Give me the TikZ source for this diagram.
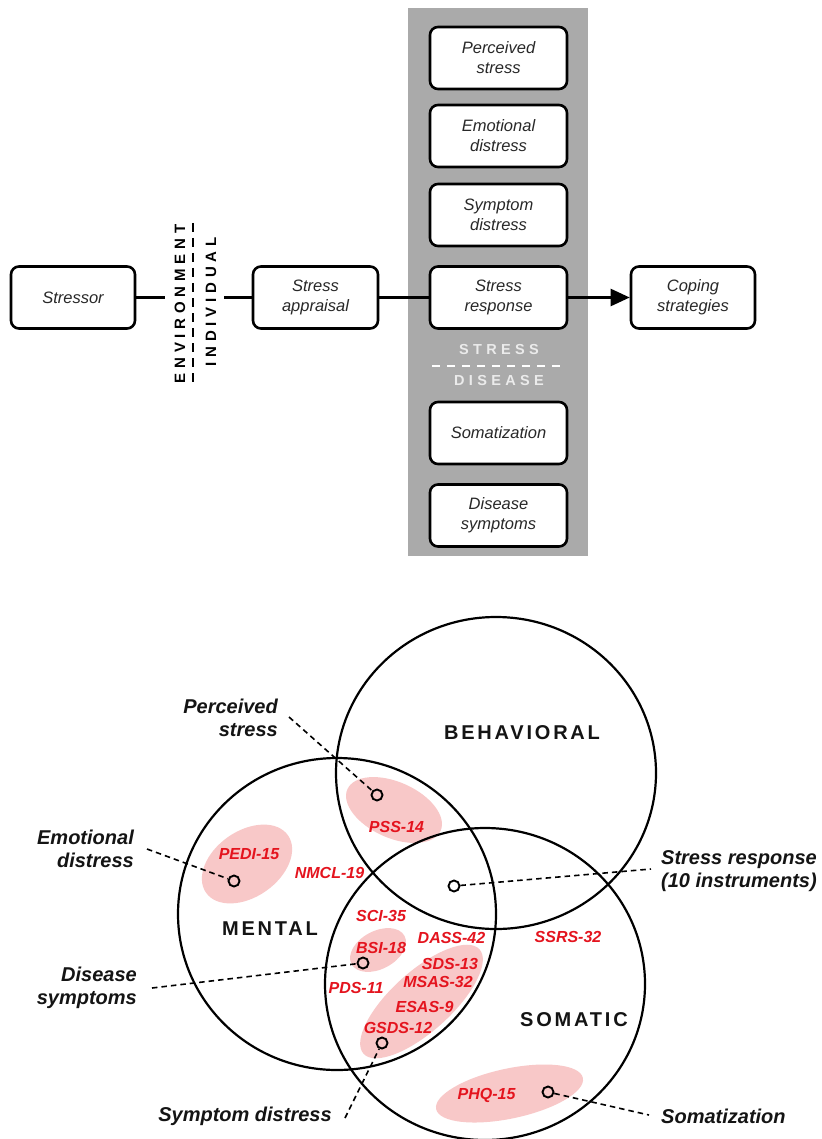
\documentclass[tikz,border=0pt]{standalone}
\usepackage{fontspec}
\setmainfont{Liberation Sans}
\newfontfamily\catfam[LetterSpace=14]{Liberation Sans}
\newfontfamily\envfam[LetterSpace=32]{Liberation Sans}
\newfontfamily\sdfam[LetterSpace=30]{Liberation Sans}
\usetikzlibrary{arrows.meta}
\definecolor{colgray}{RGB}{170,170,170}
\definecolor{pinkfill}{RGB}{248,200,200}
\definecolor{redtxt}{RGB}{228,20,30}
\definecolor{boxtxt}{RGB}{40,40,40}
\definecolor{lightlbl}{RGB}{235,235,235}
\definecolor{lbltxt}{RGB}{20,20,20}
\begin{document}
\begin{tikzpicture}[x=1pt,y=-1pt,
  flowbox/.style={draw=black, line width=2.6pt, rounded corners=8pt, fill=white,
    minimum height=62pt, align=center, text=boxtxt, inner sep=0pt,
    font=\fontsize{16.5}{20}\selectfont\itshape},
  colbox/.style={flowbox, minimum width=137pt},
  conn/.style={draw=black, line width=2.4pt},
  envlbl/.style={rotate=90, font=\fontsize{15}{17}\selectfont\envfam\bfseries, text=black, inner sep=0pt},
  sdlbl/.style={font=\fontsize{14.5}{16}\selectfont\sdfam\bfseries, text=lightlbl, inner sep=0pt},
  venn/.style={draw=black, line width=2.2pt},
  pink/.style={fill=pinkfill},
  catlbl/.style={font=\fontsize{20}{22}\selectfont\catfam\bfseries, text=lbltxt, inner sep=0pt},
  redlbl/.style={font=\fontsize{16}{18}\selectfont\bfseries\itshape, text=redtxt, inner sep=0pt},
  vlabel/.style={font=\fontsize{20}{23}\selectfont\bfseries\itshape, text=lbltxt, inner sep=0pt},
  marker/.style={circle, draw=black, line width=1.9pt, minimum size=11pt, inner sep=0pt},
  leader/.style={draw=black, line width=1.6pt, dash pattern=on 5.5pt off 4pt}
]
\useasboundingbox (0,0) rectangle (821,1139);
\fill[white] (0,0) rectangle (821,1139);

% ---------- top flow ----------
\fill[colgray] (408,8) rectangle (588,556);

\node[flowbox, minimum width=124pt] (stressor) at (73,297.5) {Stressor};
\node[flowbox, minimum width=125pt] (appraisal) at (315.5,297.5) {Stress\\appraisal};
\node[colbox] (perc) at (498.5,58) {Perceived\\stress};
\node[colbox] (emo) at (498.5,136) {Emotional\\distress};
\node[colbox] (sympt) at (498.5,215) {Symptom\\distress};
\node[colbox] (resp) at (498.5,297.5) {Stress\\response};
\node[colbox] (somz) at (498.5,433) {Somatization};
\node[colbox] (dis) at (498.5,515.5) {Disease\\symptoms};
\node[flowbox, minimum width=124pt] (coping) at (693,297.5) {Coping\\strategies};

\node[envlbl] (envtxt) at (180,304) {ENVIRONMENT};
\node[envlbl] (indtxt) at (211,302) {INDIVIDUAL};
\draw[black, line width=2.5pt, dash pattern=on 9pt off 6pt] (193,223) -- (193,383);

\coordinate (envL) at (165,297.5);
\coordinate (envR) at (224,297.5);
\draw[conn] (stressor.east) -- (envL);
\draw[conn] (envR) -- (appraisal.west);
\draw[conn] (appraisal.east) -- (resp.west);
\draw[conn, -{Triangle[length=19pt,width=17pt]}] (resp.east) -- (coping.west);

\node[sdlbl] (stresslbl) at (499,350) {STRESS};
\node[sdlbl] (diseaselbl) at (499,381) {DISEASE};
\draw[white, line width=2.5pt, dash pattern=on 8pt off 7pt] (432,366) -- (566,366);

% ---------- Venn ----------
\fill[pink, shift={(394,810)}, rotate=-24] (0,0) ellipse [x radius=51, y radius=28];
\fill[pink, shift={(247,864)}, rotate=35] (0,0) ellipse [x radius=50, y radius=33];
\fill[pink, shift={(378,950)}, rotate=28] (0,0) ellipse [x radius=30, y radius=19];
\fill[pink, shift={(421.5,1001.5)}, rotate=42] (0,0) ellipse [x radius=78, y radius=30];
\fill[pink, shift={(509.5,1093.5)}, rotate=12] (0,0) ellipse [x radius=75, y radius=25];

\draw[venn] (496,773) ellipse [x radius=160, y radius=156];
\draw[venn] (337,914) ellipse [x radius=159, y radius=156];
\draw[venn] (485,984) ellipse [x radius=160, y radius=156];

\node[catlbl] (beh) at (522,733) {BEHAVIORAL};
\node[catlbl] (ment) at (270,929) {MENTAL};
\node[catlbl] (som) at (574,1020) {SOMATIC};

\node[redlbl] (pss) at (396.5,827) {PSS-14};
\node[redlbl] (pedi) at (249,854) {PEDI-15};
\node[redlbl] (nmcl) at (329.5,873) {NMCL-19};
\node[redlbl] (sci) at (381,916) {SCI-35};
\node[redlbl] (bsi) at (381,948) {BSI-18};
\node[redlbl] (dass) at (451.5,938) {DASS-42};
\node[redlbl] (ssrs) at (568,937) {SSRS-32};
\node[redlbl] (sds) at (450,964) {SDS-13};
\node[redlbl] (msas) at (438,982) {MSAS-32};
\node[redlbl] (pds) at (356,988) {PDS-11};
\node[redlbl] (esas) at (424.5,1007) {ESAS-9};
\node[redlbl] (gsds) at (398,1028) {GSDS-12};
\node[redlbl] (phq) at (486.5,1095) {PHQ-15};

\node[marker] (mPS) at (377,795) {};
\node[marker] (mED) at (234,881) {};
\node[marker] (mSR) at (454,886) {};
\node[marker] (mDS) at (363,963) {};
\node[marker] (mSD) at (382,1043) {};
\node[marker] (mSO) at (548,1092) {};

\node[vlabel, anchor=east, align=right] (lPS) at (278,717.5) {Perceived\\stress};
\node[vlabel, anchor=east, align=right] (lED) at (134,848.5) {Emotional\\distress};
\node[vlabel, anchor=west, align=left] (lSR) at (661,871) {Stress response\\(10 instruments)};
\node[vlabel, anchor=east, align=right] (lDS) at (137,987.5) {Disease\\symptoms};
\node[vlabel] (lSD) at (245,1116) {Symptom distress};
\node[vlabel, anchor=west] (lSO) at (661,1116) {Somatization};

\coordinate (cPS) at (289,717);
\coordinate (cED) at (147,849);
\coordinate (cSR) at (651,869);
\coordinate (cDS) at (152,988);
\coordinate (cSD) at (345,1118);
\coordinate (cSO) at (649,1115);

\draw[leader] (cPS) -- (mPS);
\draw[leader] (cED) -- (mED);
\draw[leader] (mSR) -- (cSR);
\draw[leader] (cDS) -- (mDS);
\draw[leader] (cSD) -- (mSD);
\draw[leader] (mSO) -- (cSO);
\end{tikzpicture}
\end{document}
